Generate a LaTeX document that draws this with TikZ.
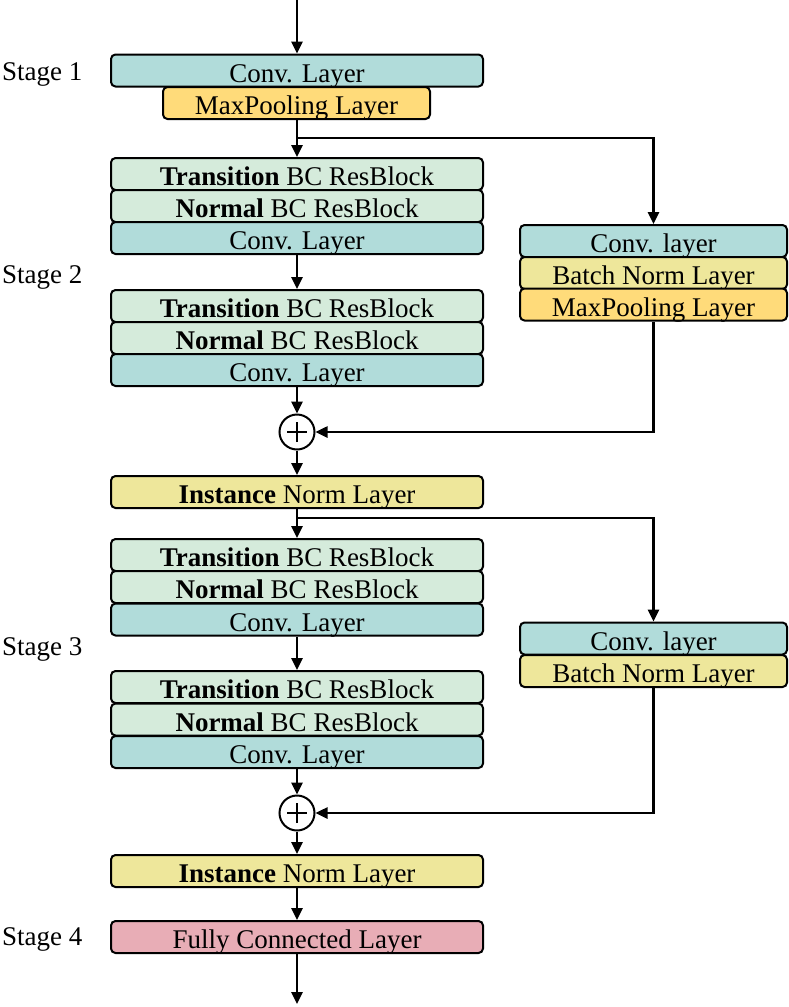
\documentclass[tikz,border=0pt]{standalone}
\usepackage{fontspec}
\setmainfont{Liberation Serif}
\usetikzlibrary{arrows.meta}
\definecolor{convc}{RGB}{177,220,218}
\definecolor{resc}{RGB}{213,235,219}
\definecolor{mpc}{RGB}{255,219,122}
\definecolor{bnc}{RGB}{238,231,155}
\definecolor{fcc}{RGB}{232,173,182}
\begin{document}
\begin{tikzpicture}[x=1pt,y=-1pt,
  txt/.style={font=\fontsize{27}{30}\selectfont},
  layer/.style={txt, draw, line width=2pt, rounded corners=4.5pt, minimum height=32pt,
    inner sep=0pt, text height=25pt, text depth=2pt},
  wide/.style={layer, minimum width=372pt},
  narrow/.style={layer, minimum width=267pt},
  conv/.style={fill=convc},
  res/.style={fill=resc},
  mp/.style={fill=mpc},
  bn/.style={fill=bnc},
  fcl/.style={fill=fcc},
  plus/.style={circle, draw, line width=2pt, fill=white, minimum size=35pt, inner sep=0pt,
    path picture={\draw[line width=2pt] ([xshift=-10pt]path picture bounding box.center) -- ([xshift=10pt]path picture bounding box.center)
      ([yshift=-10pt]path picture bounding box.center) -- ([yshift=10pt]path picture bounding box.center);}},
  arr/.style={line width=2.5pt, -{Triangle[length=12pt,width=11pt]}},
  stage/.style={txt, anchor=base west, inner sep=0pt}
]
\useasboundingbox (0,0) rectangle (789,1007);

% stage labels
\node[stage] (s1) at (2,80) {Stage 1};
\node[stage] (s2) at (2,283) {Stage 2};
\node[stage] (s3) at (2,655) {Stage 3};
\node[stage] (s4) at (2,945) {Stage 4};

% stage 1
\node[wide,conv] (c1) at (297,70.5) {Conv. Layer};
\node[narrow,mp] (mp1) at (296.5,103) {MaxPooling Layer};

% stage 2
\node[wide,res] (t2a) at (297,174) {\textbf{Transition} BC ResBlock};
\node[wide,res] (n2a) at (297,206) {\textbf{Normal} BC ResBlock};
\node[wide,conv] (c2a) at (297,238) {Conv. Layer};
\node[wide,res] (t2b) at (297,306) {\textbf{Transition} BC ResBlock};
\node[wide,res] (n2b) at (297,338) {\textbf{Normal} BC ResBlock};
\node[wide,conv] (c2b) at (297,370) {Conv. Layer};

\node[narrow,conv] (r1a) at (653.5,241) {Conv. layer};
\node[narrow,bn] (r1b) at (653.5,273) {Batch Norm Layer};
\node[narrow,mp] (r1c) at (653.5,304.5) {MaxPooling Layer};

\node[plus] (p1) at (297,432) {};
\node[wide,bn] (in1) at (297,492) {\textbf{Instance} Norm Layer};

% stage 3
\node[wide,res] (t3a) at (297,555) {\textbf{Transition} BC ResBlock};
\node[wide,res] (n3a) at (297,587) {\textbf{Normal} BC ResBlock};
\node[wide,conv] (c3a) at (297,619.5) {Conv. Layer};
\node[wide,res] (t3b) at (297,687) {\textbf{Transition} BC ResBlock};
\node[wide,res] (n3b) at (297,719.5) {\textbf{Normal} BC ResBlock};
\node[wide,conv] (c3b) at (297,752) {Conv. Layer};

\node[narrow,conv] (r2a) at (653.5,638.5) {Conv. layer};
\node[narrow,bn] (r2b) at (653.5,671) {Batch Norm Layer};

\node[plus] (p2) at (297,813) {};
\node[wide,bn] (in2) at (297,871) {\textbf{Instance} Norm Layer};

% stage 4
\node[wide,fcl] (fc) at (297,937) {Fully Connected Layer};

% connectors
\coordinate (in) at (297,0);
\coordinate (out) at (297,1004);
\coordinate (b1) at (297,138);
\coordinate (b2) at (297,518);

\draw[arr] (in) -- (c1.north);
\draw[arr] (mp1.south -| c1.south) -- (t2a.north);
\draw[arr] (b1) -| (r1a.north);
\draw[arr] (c2a.south) -- (t2b.north);
\draw[arr] (c2b.south) -- (p1.north);
\draw[arr] (r1c.south) |- (p1.east);
\draw[arr] (p1.south) -- (in1.north);
\draw[arr] (in1.south) -- (t3a.north);
\draw[arr] (b2) -| (r2a.north);
\draw[arr] (c3a.south) -- (t3b.north);
\draw[arr] (c3b.south) -- (p2.north);
\draw[arr] (r2b.south) |- (p2.east);
\draw[arr] (p2.south) -- (in2.north);
\draw[arr] (in2.south) -- (fc.north);
\draw[arr] (fc.south) -- (out);
\end{tikzpicture}
\end{document}
